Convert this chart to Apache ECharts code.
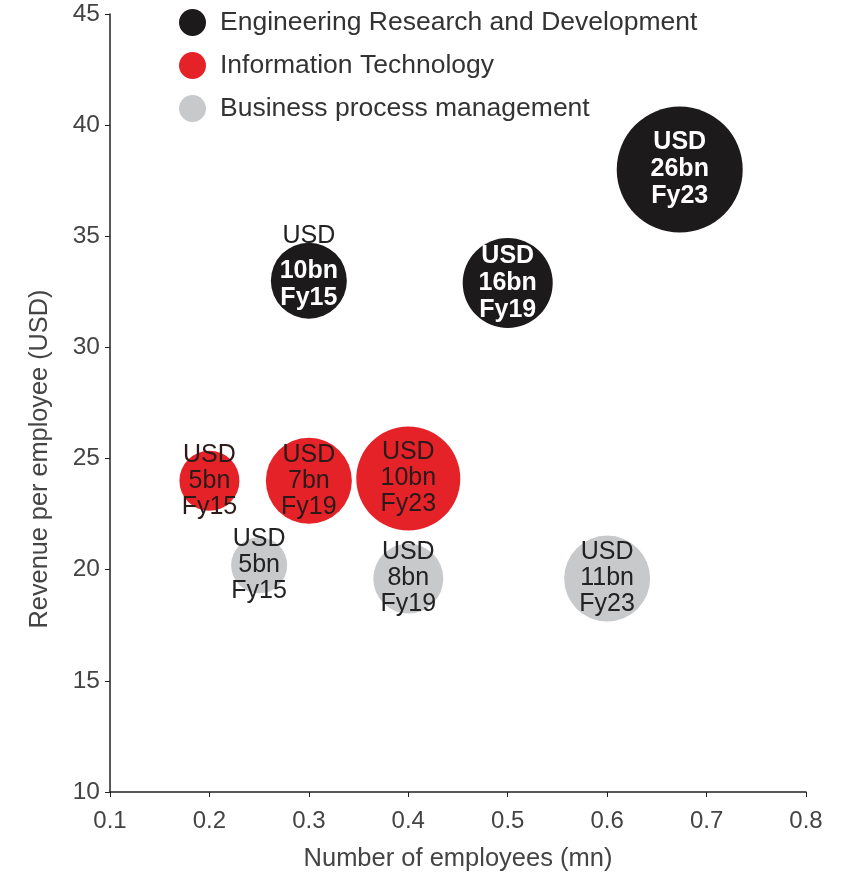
<!DOCTYPE html>
<html>
<head>
<meta charset="utf-8">
<script src="https://cdn.jsdelivr.net/npm/echarts@6/dist/echarts.min.js"></script>
<style>
  html, body { margin: 0; padding: 0; background: #fff; }
  #chart { width: 846px; height: 875px; }
</style>
</head>
<body>
<div id="chart"></div>
<script>
// x = employees (mn), y = revenue per employee (USD), rev = revenue label, fy = year, size = bubble diameter
const erdX = [0.3, 0.5, 0.673]
const erdY = [33.0, 32.9, 38.0]
const erdRev = ['10bn', '16bn', '26bn']
const erdFy = ['Fy15', 'Fy19', 'Fy23']
const erdSize = [76, 90, 126]

const itX = [0.2, 0.3, 0.4]
const itY = [24.0, 24.0, 24.1]
const itRev = ['5bn', '7bn', '10bn']
const itFy = ['Fy15', 'Fy19', 'Fy23']
const itSize = [60, 86, 104]

const bpmX = [0.25, 0.4, 0.6]
const bpmY = [20.2, 19.6, 19.6]
const bpmRev = ['5bn', '8bn', '11bn']
const bpmFy = ['Fy15', 'Fy19', 'Fy23']
const bpmSize = [56, 70, 86]

const xTicks = [0.1, 0.2, 0.3, 0.4, 0.5, 0.6, 0.7, 0.8]
const yTicks = [10, 15, 20, 25, 30, 35, 40, 45]

const FONT = '"Liberation Sans", Arial, sans-serif'

const build = (xs, ys, revs, fys, sizes) =>
  xs.map((x, i) => [x, ys[i], revs[i], fys[i], sizes[i]])

let myChart = echarts.init(document.getElementById('chart'))

const labelFmt = (p) => 'USD\n' + p.data[2] + '\n' + p.data[3]

let option = {
  animation: false,
  textStyle: { fontFamily: FONT },
  legend: {
    orient: 'vertical',
    left: 179,
    top: 9,
    padding: 0,
    icon: 'circle',
    itemWidth: 27,
    itemHeight: 27,
    itemGap: 16,
    textStyle: { fontSize: 26.5, color: '#333', fontFamily: FONT, padding: [0, 0, 0, 9] },
    data: ['Engineering Research and Development', 'Information Technology', 'Business process management']
  },
  grid: { left: 110, right: 40, top: 14, bottom: 83, containLabel: false, outerBoundsMode: 'none' },
  xAxis: {
    type: 'value',
    min: xTicks[0],
    max: xTicks[xTicks.length - 1],
    interval: 0.1,
    name: 'Number of employees (mn)',
    nameLocation: 'middle',
    nameGap: 54,
    nameTextStyle: { fontSize: 25.5, color: '#444', fontFamily: FONT },
    axisLine: { lineStyle: { color: '#222', width: 1.5 } },
    axisTick: { show: true, length: 5, lineStyle: { color: '#222' } },
    axisLabel: { fontSize: 24, color: '#444', margin: 17, formatter: (v) => v.toFixed(1) },
    splitLine: { show: false }
  },
  yAxis: {
    type: 'value',
    min: yTicks[0],
    max: yTicks[yTicks.length - 1],
    interval: 5,
    name: 'Revenue per employee (USD)',
    nameLocation: 'middle',
    nameGap: 57,
    nameTextStyle: { fontSize: 25.3, color: '#444', fontFamily: FONT, padding: [0, 112, 0, 0] },
    axisLine: { show: true, lineStyle: { color: '#222', width: 1.5 } },
    axisTick: { show: true, length: 5, lineStyle: { color: '#222' } },
    axisLabel: { fontSize: 24.5, color: '#444', margin: 10 },
    splitLine: { show: false }
  },
  series: [
    {
      name: 'Engineering Research and Development',
      type: 'scatter',
      itemStyle: { color: '#1c1a1a', opacity: 1 },
      symbolSize: (d) => d[4],
      label: {
        show: true,
        position: 'inside',
        color: '#fff',
        fontSize: 25,
        lineHeight: 27,
        fontWeight: 'bold',
        formatter: (p) => p.dataIndex === 0
          ? '{u|USD}\n' + p.data[2] + '\n' + p.data[3]
          : labelFmt(p),
        rich: {
          u: { color: '#222', fontSize: 25, fontWeight: 'normal', lineHeight: 27, padding: [0, 0, 16, 0] }
        }
      },
      labelLayout: (params) => params.dataIndex === 0 ? { dy: -10 } : {},
      data: build(erdX, erdY, erdRev, erdFy, erdSize)
    },
    {
      name: 'Information Technology',
      type: 'scatter',
      itemStyle: { color: '#e52228', opacity: 1 },
      symbolSize: (d) => d[4],
      label: {
        show: true,
        position: 'inside',
        color: '#2a1a1a',
        fontSize: 25,
        lineHeight: 26,
        formatter: labelFmt
      },
      data: build(itX, itY, itRev, itFy, itSize)
    },
    {
      name: 'Business process management',
      type: 'scatter',
      itemStyle: { color: '#c8c9cb', opacity: 1 },
      symbolSize: (d) => d[4],
      label: {
        show: true,
        position: 'inside',
        color: '#222',
        fontSize: 25,
        lineHeight: 26,
        formatter: labelFmt
      },
      data: build(bpmX, bpmY, bpmRev, bpmFy, bpmSize)
    }
  ]
}

option && myChart.setOption(option)
</script>
</body>
</html>
